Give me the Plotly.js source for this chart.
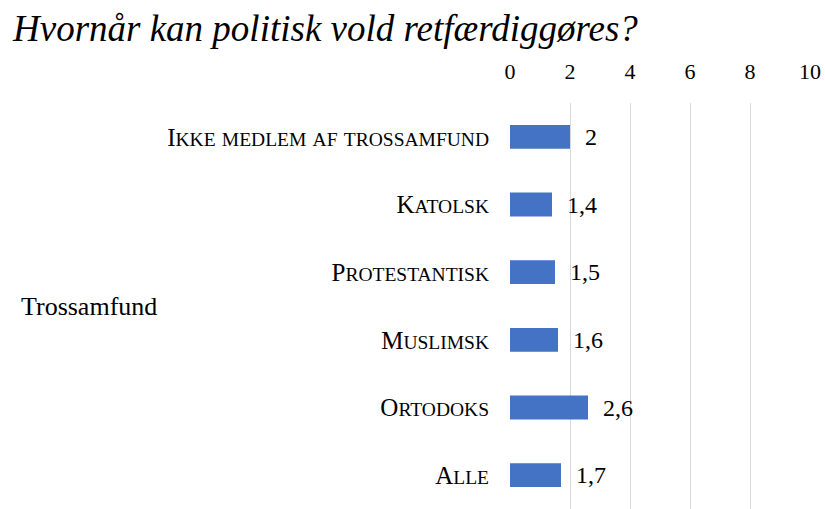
<!DOCTYPE html>
<html>
<head>
<meta charset="utf-8">
<script src="https://cdn.plot.ly/plotly-3.0.1.min.js"></script>
<style>
html,body{margin:0;padding:0;background:#fff;}
#chart{width:825px;height:509px;}
.preload{position:absolute;left:-9999px;top:0;font-family:'Liberation Serif';font-size:20px;}
</style>
</head>
<body>
<div class="preload">Hvornår 0123 <i>Hvornår kan</i> <b>x</b></div>
<div id="chart"></div>
<script>
const chartTitle = "Hvornår kan politisk vold retfærdiggøres?";
const axisTitle = "Trossamfund";
const categories = ["Ikke medlem af trossamfund", "Katolsk", "Protestantisk", "Muslimsk", "Ortodoks", "Alle"];
const values = [2, 1.4, 1.5, 1.6, 2.6, 1.7];
const tickValues = [0, 2, 4, 6, 8, 10];

const W = 825, H = 509;
const margin = {l: 510, r: 15, t: 103, b: 0};
const plotW = W - margin.l - margin.r;
const FAM = "Liberation Serif";

const labels = values.map(v => String(v).replace('.', ','));

// wrap a text in a span that carries the serif family and size
function serif(s, size) {
  return '<span style="font-family:Liberation Serif;font-size:' + size + 'px">' + s + '</span>';
}

// small caps: uppercase letters stay full size, lowercase become smaller uppercase
function smallCaps(s) {
  let out = '', buf = '';
  const flush = () => { if (buf) { out += serif(buf.toUpperCase(), 19.5); buf = ''; } };
  for (const ch of s) {
    if (ch !== ch.toUpperCase()) { buf += ch; }
    else { flush(); out += serif(ch, 25); }
  }
  flush();
  return out;
}

function draw() {
  const trace = {
    type: 'bar',
    orientation: 'h',
    x: values,
    y: categories,
    marker: {color: '#4472C4'},
    hoverinfo: 'x+y',
    cliponaxis: false
  };

  const annotations = values.map((v, i) => ({
    x: v, y: categories[i], xref: 'x', yref: 'y',
    text: serif(labels[i], 24), showarrow: false, xanchor: 'left', yanchor: 'middle',
    xshift: 13,
    font: {family: FAM, size: 24, color: '#000'}
  }));
  annotations.push({
    xref: 'paper', yref: 'paper', x: (19 - margin.l) / plotW, y: 0.5,
    xanchor: 'left', yanchor: 'middle', showarrow: false,
    text: serif(axisTitle, 26), font: {family: FAM, size: 26, color: '#000'}
  });

  const layout = {
    width: W, height: H,
    margin: margin,
    font: {family: FAM, color: '#000'},
    paper_bgcolor: '#fff', plot_bgcolor: '#fff',
    showlegend: false,
    bargap: 0.647,
    title: {
      text: serif('<i>' + chartTitle + '</i>', 37),
      font: {family: FAM, size: 37, color: '#000'},
      xref: 'container', yref: 'container',
      x: 13 / W, xanchor: 'left', y: 1 - 28 / H, yanchor: 'middle'
    },
    xaxis: {
      side: 'top',
      range: [0, 10],
      tickvals: tickValues,
      ticktext: tickValues.map(t => serif(String(t), 22)),
      showgrid: true, gridcolor: '#d9d9d9', gridwidth: 1,
      zeroline: false, showline: false,
      ticks: 'outside', ticklen: 14, tickcolor: 'rgba(0,0,0,0)',
      tickfont: {family: FAM, size: 22, color: '#000'},
      fixedrange: true
    },
    yaxis: {
      autorange: 'reversed',
      tickvals: categories,
      ticktext: categories.map(smallCaps),
      showgrid: false, zeroline: false, showline: false,
      ticks: 'outside', ticklen: 15, tickcolor: 'rgba(0,0,0,0)',
      tickfont: {family: FAM, size: 25, color: '#000'},
      fixedrange: true
    },
    annotations: annotations
  };

  Plotly.newPlot('chart', [trace], layout, {displayModeBar: false, staticPlot: true});
}

let drawn = false;
function once() { if (!drawn) { drawn = true; draw(); } }
if (document.fonts && document.fonts.load) {
  Promise.all([
    document.fonts.load('20px "Liberation Serif"'),
    document.fonts.load('italic 20px "Liberation Serif"')
  ]).then(once, once);
  setTimeout(once, 300);
} else {
  once();
}
</script>
</body>
</html>
